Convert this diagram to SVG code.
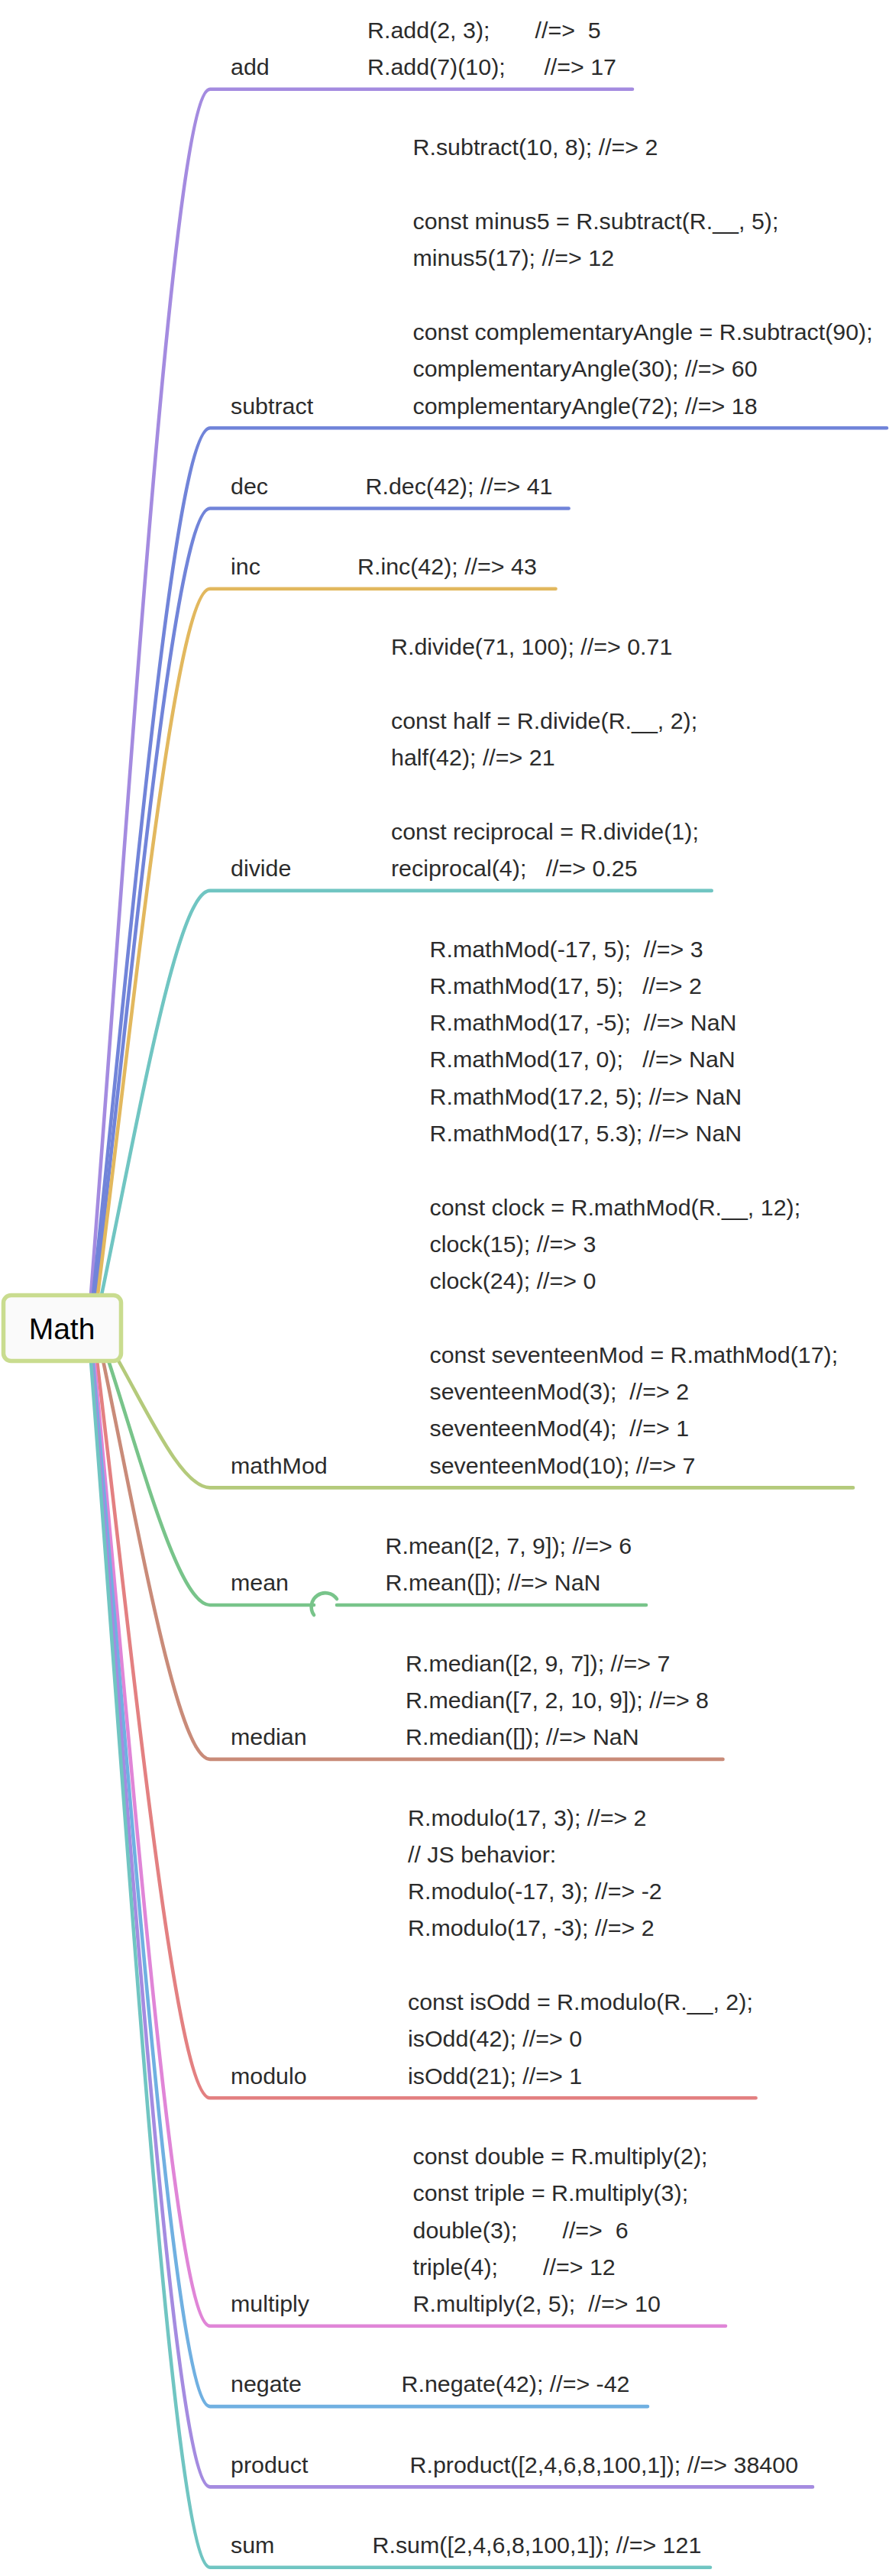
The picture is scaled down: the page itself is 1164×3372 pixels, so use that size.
<svg xmlns="http://www.w3.org/2000/svg" width="1164" height="3372" viewBox="0 0 1164 3372">
<style>
text{font-family:"Liberation Sans",Arial,sans-serif;font-size:30.4px;fill:#2b2b2b;white-space:pre}
.root{font-size:39px;fill:#000}
.c{fill:none;stroke-width:4.6;stroke-linecap:round;stroke-linejoin:round}
.purple{stroke:#a48be0}.blue{stroke:#7184d9}.yellow{stroke:#e2b85e}.teal{stroke:#70c5c2}
.olive{stroke:#b4ca7b}.green{stroke:#78c48a}.brown{stroke:#c98b79}.red{stroke:#e38081}
.pink{stroke:#e085d7}.lblue{stroke:#70b0e1}
</style>
<rect width="1164" height="3372" fill="#ffffff"/>
<g id="connectors">
<path class="c purple" d="M119,1695 C173.6,984.8 228.2,116.8 275,116.8 L828,116.8"/>
<path class="c blue" d="M122,1695 C175.6,1184.3 229.1,560.2 275,560.2 L1161,560.2"/>
<path class="c blue" d="M125,1695 C177.5,1231.7 230,665.5 275,665.5 L744.6,665.5"/>
<path class="c yellow" d="M128,1695 C179.5,1279.1 230.9,770.8 275,770.8 L727.5,770.8"/>
<path class="c teal" d="M133,1695 C182.7,1456.9 232.4,1165.9 275,1165.9 L931.7,1165.9"/>
<path class="c olive" d="M155,1781 C197,1855.9 239,1947.4 275,1947.4 L1117,1947.4"/>
<path class="c green" d="M142,1781 C188.6,1925 235.1,2101 275,2101 L411,2101 M441,2101 L846,2101"/>
<path class="c green" d="M411,2114 A17 17 0 0 1 441,2093"/>
<path class="c brown" d="M135,1781 C184,2015.9 233,2302.9 275,2302.9 L946.5,2302.9"/>
<path class="c red" d="M127,1781 C178.8,2215.4 230.6,2746.3 275,2746.3 L989.6,2746.3"/>
<path class="c pink" d="M123.5,1781 C176.5,2349.7 229.6,3044.8 275,3044.8 L950,3044.8"/>
<path class="c lblue" d="M121.5,1781 C175.2,2397.1 229,3150.1 275,3150.1 L848,3150.1"/>
<path class="c purple" d="M120,1781 C174.3,2444.5 228.5,3255.4 275,3255.4 L1064,3255.4"/>
<path class="c teal" d="M119,1781 C173.6,2491.9 228.2,3360.7 275,3360.7 L930,3360.7"/>
</g>
<g id="math">
<rect x="4.5" y="1695.5" width="154" height="86" rx="10" fill="#fafafa" stroke="#c9dc8f" stroke-width="5.5"/>
<text class="root" x="81" y="1752.7" text-anchor="middle">Math</text>
</g>
<g id="add">
<text x="302" y="98.1">add</text>
<text x="481" y="49.8">R.add(2, 3);       //=>  5</text>
<text x="481" y="98.1">R.add(7)(10);      //=> 17</text>
</g>
<g id="subtract">
<text x="302" y="541.5">subtract</text>
<text x="540.5" y="203.4">R.subtract(10, 8); //=> 2</text>
<text x="540.5" y="300">const minus5 = R.subtract(R.__, 5);</text>
<text x="540.5" y="348.3">minus5(17); //=> 12</text>
<text x="540.5" y="444.9">const complementaryAngle = R.subtract(90);</text>
<text x="540.5" y="493.2">complementaryAngle(30); //=> 60</text>
<text x="540.5" y="541.5">complementaryAngle(72); //=> 18</text>
</g>
<g id="dec">
<text x="302" y="646.8">dec</text>
<text x="478.5" y="646.8">R.dec(42); //=> 41</text>
</g>
<g id="inc">
<text x="302" y="752.1">inc</text>
<text x="468" y="752.1">R.inc(42); //=> 43</text>
</g>
<g id="divide">
<text x="302" y="1147.2">divide</text>
<text x="512" y="857.4">R.divide(71, 100); //=> 0.71</text>
<text x="512" y="954">const half = R.divide(R.__, 2);</text>
<text x="512" y="1002.3">half(42); //=> 21</text>
<text x="512" y="1098.9">const reciprocal = R.divide(1);</text>
<text x="512" y="1147.2">reciprocal(4);   //=> 0.25</text>
</g>
<g id="mathMod">
<text x="302" y="1928.7">mathMod</text>
<text x="562.5" y="1252.5">R.mathMod(-17, 5);  //=> 3</text>
<text x="562.5" y="1300.8">R.mathMod(17, 5);   //=> 2</text>
<text x="562.5" y="1349.1">R.mathMod(17, -5);  //=> NaN</text>
<text x="562.5" y="1397.4">R.mathMod(17, 0);   //=> NaN</text>
<text x="562.5" y="1445.7">R.mathMod(17.2, 5); //=> NaN</text>
<text x="562.5" y="1494">R.mathMod(17, 5.3); //=> NaN</text>
<text x="562.5" y="1590.6">const clock = R.mathMod(R.__, 12);</text>
<text x="562.5" y="1638.9">clock(15); //=> 3</text>
<text x="562.5" y="1687.2">clock(24); //=> 0</text>
<text x="562.5" y="1783.8">const seventeenMod = R.mathMod(17);</text>
<text x="562.5" y="1832.1">seventeenMod(3);  //=> 2</text>
<text x="562.5" y="1880.4">seventeenMod(4);  //=> 1</text>
<text x="562.5" y="1928.7">seventeenMod(10); //=> 7</text>
</g>
<g id="mean">
<text x="302" y="2082.3">mean</text>
<text x="504.5" y="2034">R.mean([2, 7, 9]); //=> 6</text>
<text x="504.5" y="2082.3">R.mean([]); //=> NaN</text>
</g>
<g id="median">
<text x="302" y="2284.2">median</text>
<text x="531" y="2187.6">R.median([2, 9, 7]); //=> 7</text>
<text x="531" y="2235.9">R.median([7, 2, 10, 9]); //=> 8</text>
<text x="531" y="2284.2">R.median([]); //=> NaN</text>
</g>
<g id="modulo">
<text x="302" y="2727.6">modulo</text>
<text x="534" y="2389.5">R.modulo(17, 3); //=> 2</text>
<text x="534" y="2437.8">// JS behavior:</text>
<text x="534" y="2486.1">R.modulo(-17, 3); //=> -2</text>
<text x="534" y="2534.4">R.modulo(17, -3); //=> 2</text>
<text x="534" y="2631">const isOdd = R.modulo(R.__, 2);</text>
<text x="534" y="2679.3">isOdd(42); //=> 0</text>
<text x="534" y="2727.6">isOdd(21); //=> 1</text>
</g>
<g id="multiply">
<text x="302" y="3026.1">multiply</text>
<text x="540.5" y="2832.9">const double = R.multiply(2);</text>
<text x="540.5" y="2881.2">const triple = R.multiply(3);</text>
<text x="540.5" y="2929.5">double(3);       //=>  6</text>
<text x="540.5" y="2977.8">triple(4);       //=> 12</text>
<text x="540.5" y="3026.1">R.multiply(2, 5);  //=> 10</text>
</g>
<g id="negate">
<text x="302" y="3131.4">negate</text>
<text x="525.5" y="3131.4">R.negate(42); //=> -42</text>
</g>
<g id="product">
<text x="302" y="3236.7">product</text>
<text x="536.5" y="3236.7">R.product([2,4,6,8,100,1]); //=> 38400</text>
</g>
<g id="sum">
<text x="302" y="3342">sum</text>
<text x="487.5" y="3342">R.sum([2,4,6,8,100,1]); //=> 121</text>
</g>
</svg>
